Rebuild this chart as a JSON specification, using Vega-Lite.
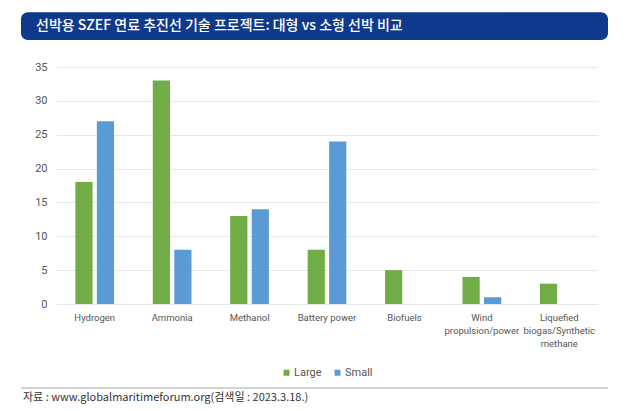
{
  "$schema": "https://vega.github.io/schema/vega-lite/v6.json",
  "background": "white",
  "padding": {"left": 20, "top": 12, "right": 5, "bottom": 5},
  "width": 542,
  "height": 237,
  "config": {
    "view": {"stroke": null},
    "font": "Roboto",
    "legend": {"layout": {"bottom": {"anchor": "middle"}}}
  },
  "datasets": {
    "fuels": [
      {"fuel": "Hydrogen", "size": "Large", "count": 18},
      {"fuel": "Hydrogen", "size": "Small", "count": 27},
      {"fuel": "Ammonia", "size": "Large", "count": 33},
      {"fuel": "Ammonia", "size": "Small", "count": 8},
      {"fuel": "Methanol", "size": "Large", "count": 13},
      {"fuel": "Methanol", "size": "Small", "count": 14},
      {"fuel": "Battery power", "size": "Large", "count": 8},
      {"fuel": "Battery power", "size": "Small", "count": 24},
      {"fuel": "Biofuels", "size": "Large", "count": 5},
      {"fuel": "Biofuels", "size": "Small", "count": 0},
      {"fuel": "Wind|propulsion/power", "size": "Large", "count": 4},
      {"fuel": "Wind|propulsion/power", "size": "Small", "count": 1},
      {"fuel": "Liquefied|biogas/Synthetic|methane", "size": "Large", "count": 3},
      {"fuel": "Liquefied|biogas/Synthetic|methane", "size": "Small", "count": 0}
    ],
    "deco": [
      {"a": -35, "b": 552, "title": "선박용 SZEF 연료 추진선 기술 프로젝트: 대형 vs 소형 선박 비교", "tx": -20, "source": "자료 : www.globalmaritimeforum.org(검색일 : 2023.3.18.)", "sx": -33}
    ]
  },
  "resolve": {"scale": {"x": "independent"}, "axis": {"x": "independent"}},
  "layer": [
    {
      "data": {"name": "fuels"},
      "mark": {"type": "bar"},
      "encoding": {
        "x": {
          "field": "fuel", "type": "nominal", "sort": null,
          "scale": {"paddingInner": 0.5, "paddingOuter": 0.25},
          "axis": {"title": null, "labelAngle": 0, "domain": false, "ticks": false, "labelPadding": 8, "labelFontSize": 9.5, "labelColor": "#555555", "labelLineHeight": 13, "labelExpr": "split(datum.label, '|')"}
        },
        "xOffset": {"field": "size", "type": "nominal", "scale": {"paddingInner": 0.2, "paddingOuter": 0}},
        "y": {
          "field": "count", "type": "quantitative",
          "scale": {"domain": [0, 35], "nice": false},
          "axis": {"title": null, "values": [0, 5, 10, 15, 20, 25, 30, 35], "domain": false, "ticks": false, "labelPadding": 9, "labelFontSize": 11, "labelColor": "#555555", "gridColor": "#e8e8e8"}
        },
        "color": {
          "field": "size", "type": "nominal",
          "scale": {"domain": ["Large", "Small"], "range": ["#70ad47", "#5b9bd5"]},
          "legend": {"title": null, "orient": "bottom", "direction": "horizontal", "symbolType": "square", "symbolSize": 36, "labelFontSize": 11, "labelColor": "#555555", "offset": 19, "columnPadding": 10, "labelOffset": 2}
        }
      }
    },
    {
      "data": {"name": "deco"},
      "mark": {"type": "rect", "fill": "#0f3a8c", "cornerRadius": 7},
      "encoding": {
        "x": {"field": "a", "type": "quantitative", "scale": {"domain": [0, 542], "nice": false, "zero": false}, "axis": null},
        "x2": {"field": "b"},
        "y": {"datum": 39.0, "type": "quantitative", "axis": {"title": null, "values": [0, 5, 10, 15, 20, 25, 30, 35], "domain": false, "ticks": false, "labelPadding": 9, "labelFontSize": 11, "labelColor": "#555555", "gridColor": "#e8e8e8"}},
        "y2": {"datum": 43.1}
      }
    },
    {
      "data": {"name": "deco"},
      "mark": {"type": "text", "color": "white", "align": "left", "baseline": "middle", "font": "Noto Sans CJK KR", "fontSize": 14, "fontWeight": 500},
      "encoding": {
        "x": {"field": "tx", "type": "quantitative", "scale": {"domain": [0, 542], "nice": false, "zero": false}, "axis": null},
        "y": {"datum": 41.05, "type": "quantitative", "axis": {"title": null, "values": [0, 5, 10, 15, 20, 25, 30, 35], "domain": false, "ticks": false, "labelPadding": 9, "labelFontSize": 11, "labelColor": "#555555", "gridColor": "#e8e8e8"}},
        "text": {"field": "title"}
      }
    },
    {
      "data": {"name": "deco"},
      "mark": {"type": "rule", "color": "#c4c4c4", "strokeWidth": 1.5},
      "encoding": {
        "x": {"field": "a", "type": "quantitative", "scale": {"domain": [0, 542], "nice": false, "zero": false}, "axis": null},
        "x2": {"field": "b"},
        "y": {"datum": -12.4, "type": "quantitative", "axis": {"title": null, "values": [0, 5, 10, 15, 20, 25, 30, 35], "domain": false, "ticks": false, "labelPadding": 9, "labelFontSize": 11, "labelColor": "#555555", "gridColor": "#e8e8e8"}}
      }
    },
    {
      "data": {"name": "deco"},
      "mark": {"type": "text", "color": "#333333", "align": "left", "baseline": "middle", "font": "Noto Sans CJK KR", "fontSize": 11},
      "encoding": {
        "x": {"field": "sx", "type": "quantitative", "scale": {"domain": [0, 542], "nice": false, "zero": false}, "axis": null},
        "y": {"datum": -13.9, "type": "quantitative", "axis": {"title": null, "values": [0, 5, 10, 15, 20, 25, 30, 35], "domain": false, "ticks": false, "labelPadding": 9, "labelFontSize": 11, "labelColor": "#555555", "gridColor": "#e8e8e8"}},
        "text": {"field": "source"}
      }
    }
  ]
}
